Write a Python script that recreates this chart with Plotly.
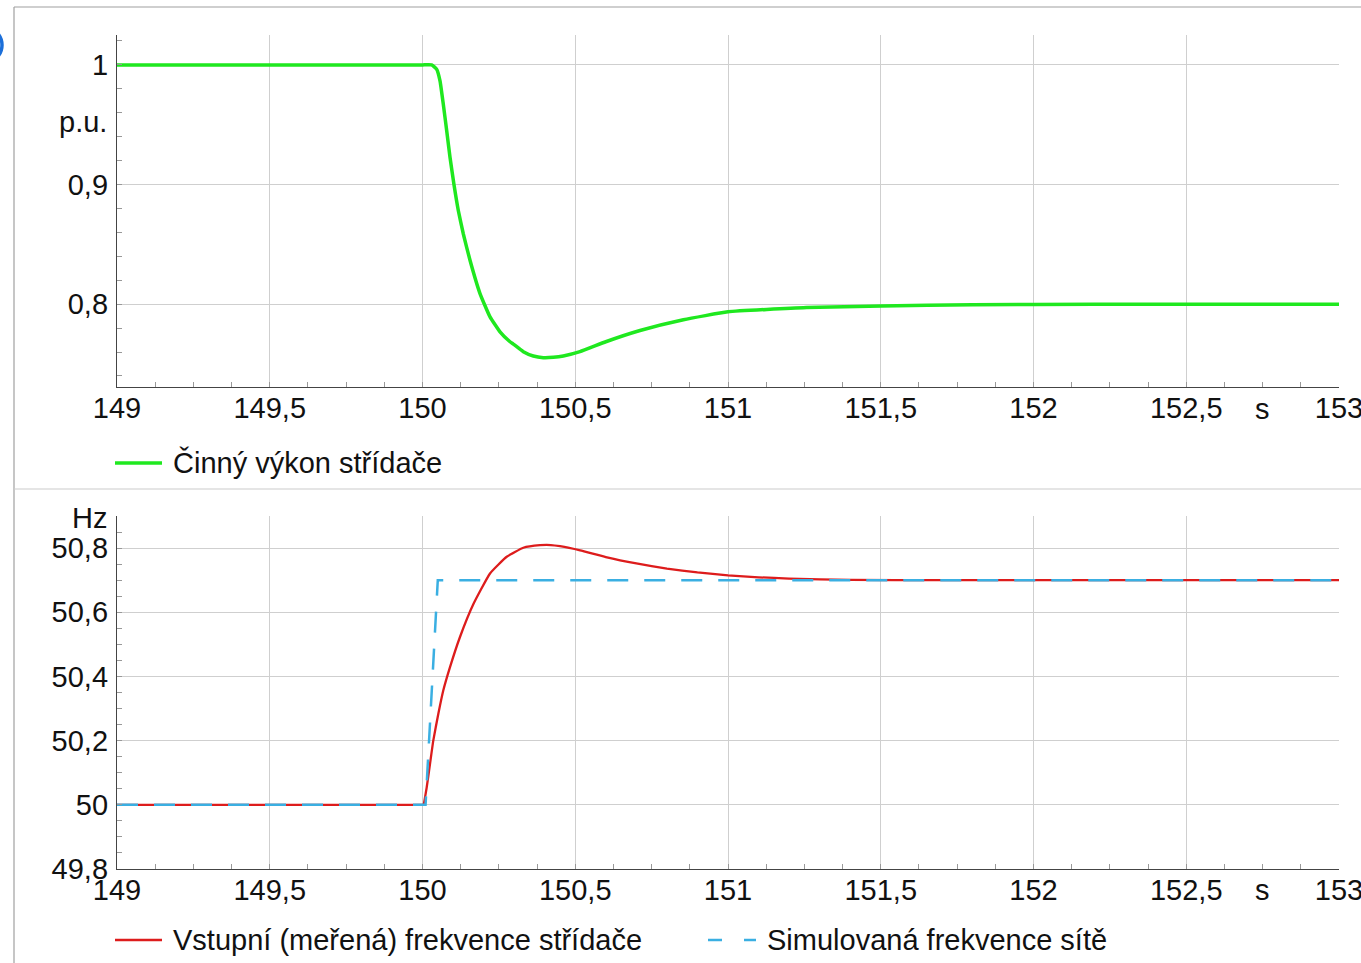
import plotly.graph_objects as go

# ---- data ----
t_power = [149.0, 149.5, 149.9, 150.0, 150.03, 150.0465, 150.0573, 150.068, 150.0792, 150.09,
           150.1031, 150.1172, 150.1335, 150.1555, 150.1882, 150.221, 150.2537, 150.2864,
           150.2972, 150.33, 150.3627, 150.3954, 150.4282, 150.461, 150.5155, 150.6, 150.712,
           150.854, 151.0, 151.257, 151.503, 151.8, 152.2, 152.6, 153.0]
p_power = [1.0, 1.0, 1.0, 1.0, 1.0, 0.9963, 0.9867, 0.9673, 0.945, 0.9228,
           0.8998, 0.8783, 0.8589, 0.8367, 0.8089, 0.7894, 0.7769, 0.7686,
           0.7667, 0.7603, 0.7567, 0.7553, 0.7556, 0.7567, 0.7603, 0.7686, 0.778,
           0.787, 0.7936, 0.7972, 0.7986, 0.7996, 0.8, 0.8, 0.8]

t_meas = [149.0, 149.5, 149.9, 150.0, 150.003, 150.0137, 150.0245, 150.0353, 150.0517, 150.068,
          150.09, 150.1227, 150.1663, 150.221, 150.2756, 150.33, 150.3846, 150.42, 150.45,
          150.516, 150.6, 150.7, 150.8, 150.9, 151.0, 151.1, 151.2, 151.4, 151.7, 152.2,
          152.6, 153.0]
f_meas = [50.0, 50.0, 50.0, 50.0, 50.0, 50.054, 50.127, 50.2, 50.283, 50.356,
          50.429, 50.523, 50.625, 50.721, 50.773, 50.801, 50.809, 50.8095, 50.806,
          50.793, 50.772, 50.752, 50.736, 50.724, 50.715, 50.709, 50.705, 50.701, 50.7, 50.7,
          50.7, 50.7]

t_grid = [149.0, 150.01, 150.05, 153.0]
f_grid = [50.0, 50.0, 50.7, 50.7]

name_power = "Činný výkon střídače"
name_meas = "Vstupní (meřená) frekvence střídače"
name_grid = "Simulovaná frekvence sítě"

GREEN = "#1fe81f"
RED = "#dd1c1c"
BLUE = "#3aafe2"
FONT = "Liberation Sans, Arial, sans-serif"
FS = 29

fig = go.Figure()
fig.add_trace(go.Scatter(x=t_power, y=p_power, mode="lines", name=name_power,
                         line=dict(color=GREEN, width=3.5, shape="spline", smoothing=0.4),
                         xaxis="x", yaxis="y", showlegend=False))
fig.add_trace(go.Scatter(x=t_meas, y=f_meas, mode="lines", name=name_meas,
                         line=dict(color=RED, width=2.3, shape="spline", smoothing=0.4),
                         xaxis="x2", yaxis="y2", showlegend=False))
fig.add_trace(go.Scatter(x=t_grid, y=f_grid, mode="lines", name=name_grid,
                         line=dict(color=BLUE, width=2.5, dash="21px,16px"),
                         xaxis="x2", yaxis="y2", showlegend=False))

L, R, T, B = 117, 22, 35, 94
W, H = 1361, 963
PW, PH = W - L - R, H - T - B


def px(x):
    return (x - L) / PW


def py(y):
    return (H - B - y) / PH


xcommon = dict(range=[149, 153], dtick=0.5, tick0=149, showgrid=True, gridcolor="#cfcfcf",
               gridwidth=1, showline=True, linecolor="#444", linewidth=1.3,
               ticks="inside", ticklen=5, tickcolor="#999",
               tickfont=dict(family=FONT, size=FS, color="#111"),
               ticklabeloverflow="allow", ticklabelstandoff=-5,
               minor=dict(dtick=0.125, ticks="inside", ticklen=5, tickcolor="#999", showgrid=False),
               zeroline=False, fixedrange=True, automargin=False)
ycommon = dict(showgrid=True, gridcolor="#cfcfcf", gridwidth=1, showline=True,
               linecolor="#444", linewidth=1.3, ticks="inside", ticklen=5, tickcolor="#999",
               tickfont=dict(family=FONT, size=FS, color="#111"), zeroline=False,
               ticklabelstandoff=2, ticklabeloverflow="allow", automargin=False)

top_dom = [py(387), 1.0]
bot_dom = [0.0, py(516)]

fig.update_layout(
    width=W, height=H,
    margin=dict(l=L, r=R, t=T, b=B, pad=0),
    paper_bgcolor="white", plot_bgcolor="white",
    separators=", ",
    font=dict(family=FONT, size=FS, color="#111"),
    xaxis=dict(domain=[0, 1], anchor="y", **xcommon),
    yaxis=dict(domain=top_dom, anchor="x", range=[0.7308, 1.025], dtick=0.1, tick0=0,
               minor=dict(dtick=0.02, tick0=0, ticks="inside", ticklen=5, tickcolor="#999",
                          showgrid=False), **ycommon),
    xaxis2=dict(domain=[0, 1], anchor="y2", **xcommon),
    yaxis2=dict(domain=bot_dom, anchor="x2", range=[49.8, 50.9], dtick=0.2, tick0=49.8,
                minor=dict(dtick=0.05, tick0=49.8, ticks="inside", ticklen=5, tickcolor="#999",
                           showgrid=False), **ycommon),
)

shapes = [
    # outer frame / separators
    dict(type="line", xref="paper", yref="paper", x0=px(14), x1=px(14), y0=py(7), y1=py(975),
         line=dict(color="#a0a0a0", width=1.2)),
    dict(type="line", xref="paper", yref="paper", x0=px(14), x1=px(1375), y0=py(7), y1=py(7),
         line=dict(color="#a0a0a0", width=1.2)),
    dict(type="line", xref="paper", yref="paper", x0=px(14), x1=px(1375), y0=py(489), y1=py(489),
         line=dict(color="#cccccc", width=1.2)),
    # partially visible blue circled label
    dict(type="circle", xref="paper", yref="paper", x0=px(-34), x1=px(2), y0=py(63), y1=py(27),
         line=dict(color="#1c6fd9", width=3.5)),
    # legend samples
    dict(type="line", xref="paper", yref="paper", x0=px(115), x1=px(162), y0=py(463), y1=py(463),
         line=dict(color=GREEN, width=3.5)),
    dict(type="line", xref="paper", yref="paper", x0=px(115), x1=px(162), y0=py(940), y1=py(940),
         line=dict(color=RED, width=2.3)),
    dict(type="line", xref="paper", yref="paper", x0=px(708), x1=px(722), y0=py(940), y1=py(940),
         line=dict(color=BLUE, width=2.5)),
    dict(type="line", xref="paper", yref="paper", x0=px(744), x1=px(756), y0=py(940), y1=py(940),
         line=dict(color=BLUE, width=2.5)),
]
fig.update_layout(shapes=shapes)

tf = dict(family=FONT, size=FS, color="#111")
annotations = [
    dict(text=name_power, xref="paper", yref="paper", x=px(171), y=py(463),
         xanchor="left", yanchor="middle", showarrow=False, font=tf),
    dict(text=name_meas, xref="paper", yref="paper", x=px(171), y=py(940),
         xanchor="left", yanchor="middle", showarrow=False, font=tf),
    dict(text=name_grid, xref="paper", yref="paper", x=px(765), y=py(940),
         xanchor="left", yanchor="middle", showarrow=False, font=tf),
    dict(text="p.u.", xref="paper", yref="y", x=px(109), y=0.952,
         xanchor="right", yanchor="middle", showarrow=False, font=tf),
    dict(text="Hz", xref="paper", yref="y2", x=px(109), y=50.895,
         xanchor="right", yanchor="middle", showarrow=False, font=tf),
    dict(text="s", xref="x", yref="paper", x=152.75, y=py(409),
         xanchor="center", yanchor="middle", showarrow=False, font=tf),
    dict(text="s", xref="x2", yref="paper", x=152.75, y=py(890),
         xanchor="center", yanchor="middle", showarrow=False, font=tf),
]
fig.update_layout(annotations=annotations)

fig.write_html("out.html", config={"displayModeBar": False},
               post_script="document.body.style.margin='0px';document.body.style.overflow='hidden';")
